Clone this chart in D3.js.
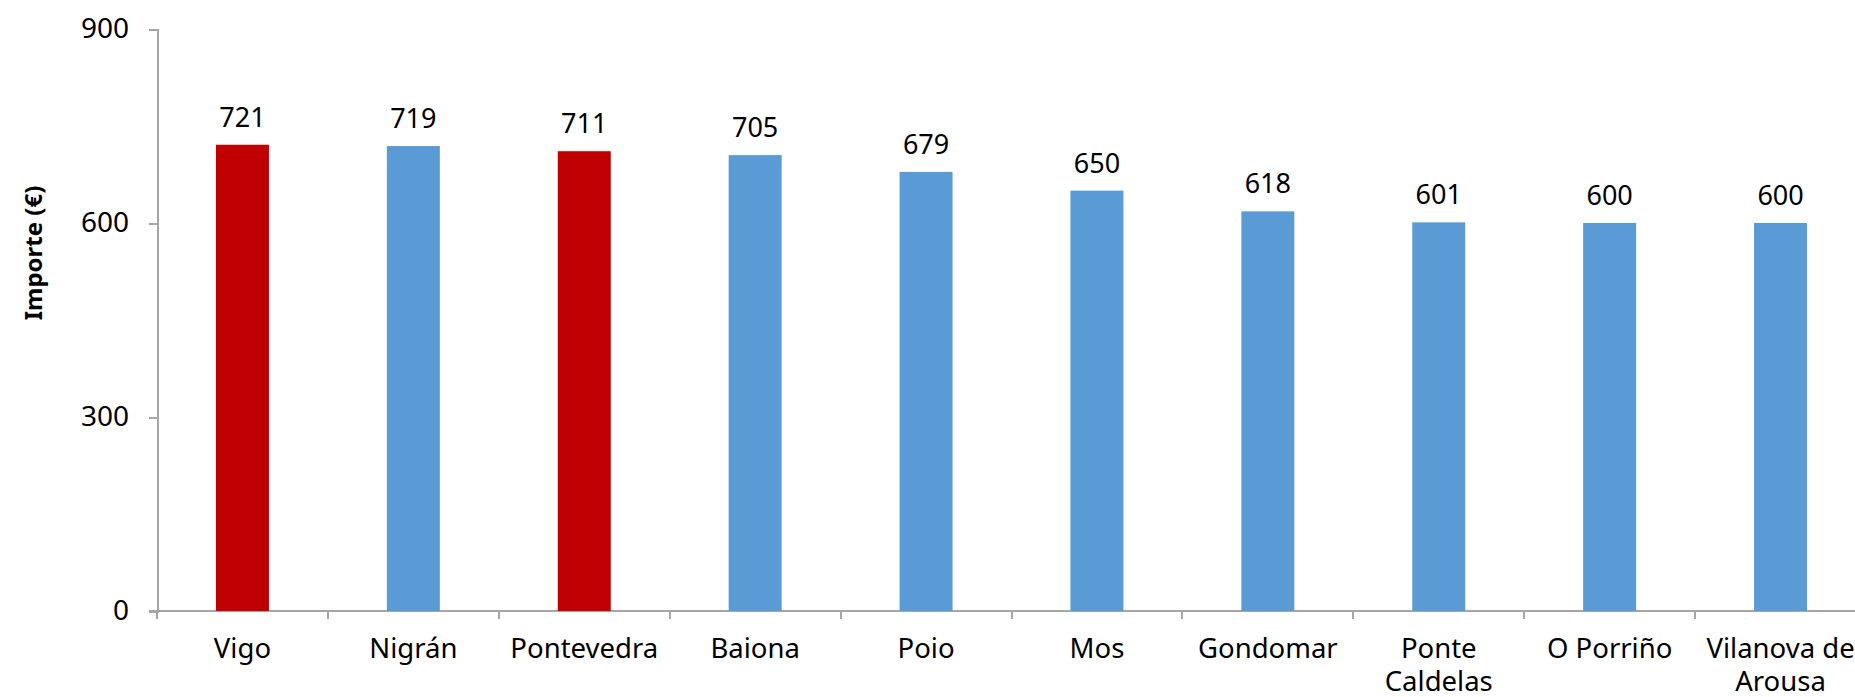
<!DOCTYPE html>
<html lang="es">
<meta charset="utf-8">
<style>
body { margin: 0; background: #fff; }
svg { display: block; font-family: "Noto Sans", sans-serif; }
.axis path, .axis line { stroke: #a6a6a6; stroke-width: 2; shape-rendering: crispEdges; }
</style>
<body>
<svg width="1855" height="697"></svg>
<script src="https://d3js.org/d3.v7.min.js"></script>
<script>

var municipios = ["Vigo", "Nigrán", "Pontevedra", "Baiona", "Poio", "Mos", "Gondomar",
                  "Ponte Caldelas", "O Porriño", "Vilanova de Arousa"];
var importe = [721, 719, 711, 705, 679, 650, 618, 601, 600, 600];
var destacados = ["Vigo", "Pontevedra"];
var yTicks = [0, 300, 600, 900];
// how category labels break into lines
var lineas = {"Ponte Caldelas": ["Ponte", "Caldelas"], "Vilanova de Arousa": ["Vilanova de", "Arousa"]};

var svg = d3.select("svg");

var x = d3.scaleBand()
    .domain(municipios)
    .range([157, 1866])
    .paddingInner(0.69)
    .paddingOuter(0.345);

var y = d3.scaleLinear()
    .domain([0, 900])
    .range([611, 29]);

// y axis
var gy = svg.append("g")
    .attr("class", "axis")
    .attr("transform", "translate(157,0)")
    .call(d3.axisLeft(y).tickValues(yTicks).tickSize(8).tickPadding(20));
gy.selectAll("text")
    .attr("font-size", 28)
    .attr("font-family", "Noto Sans")
    .attr("fill", "#000");

// x axis: ticks on band boundaries
var bordes = municipios.map(function(d, i) { return x.range()[0] + x.step() * i; });
var gx = svg.append("g")
    .attr("class", "axis");
gx.append("line")
    .attr("x1", 149).attr("x2", x.range()[1])
    .attr("y1", y(0)).attr("y2", y(0));
gx.selectAll(".tick")
    .data(bordes)
  .enter().append("line")
    .attr("x1", function(d) { return d; })
    .attr("x2", function(d) { return d; })
    .attr("y1", y(0))
    .attr("y2", y(0) + 8);

// bars
svg.selectAll(".bar")
    .data(municipios)
  .enter().append("rect")
    .attr("class", "bar")
    .attr("x", function(d) { return x(d); })
    .attr("width", x.bandwidth())
    .attr("y", function(d, i) { return y(importe[i]); })
    .attr("height", function(d, i) { return y(0) - y(importe[i]); })
    .attr("fill", function(d) { return destacados.indexOf(d) >= 0 ? "#c00000" : "#5b9bd5"; });

// value labels
svg.selectAll(".valor")
    .data(municipios)
  .enter().append("text")
    .attr("class", "valor")
    .attr("x", function(d) { return x(d) + x.bandwidth() / 2; })
    .attr("y", function(d, i) { return y(importe[i]) - 18; })
    .attr("text-anchor", "middle")
    .attr("font-size", 27)
    .text(function(d, i) { return importe[i]; });

// category labels
var cat = svg.selectAll(".cat")
    .data(municipios)
  .enter().append("text")
    .attr("class", "cat")
    .attr("text-anchor", "middle")
    .attr("font-size", 27.5)
    .attr("transform", function(d) { return "translate(" + (x(d) + x.bandwidth() / 2) + "," + 658 + ")"; });
cat.selectAll("tspan")
    .data(function(d) { return lineas[d] || [d]; })
  .enter().append("tspan")
    .attr("x", 0)
    .attr("dy", function(d, i) { return i ? 33 : 0; })
    .text(function(d) { return d; });

// y axis title
svg.append("text")
    .attr("transform", "translate(42," + ((y(0) + y(900)) / 2 - 67) + ") rotate(-90)")
    .attr("text-anchor", "middle")
    .attr("font-size", 24)
    .attr("font-weight", "bold")
    .text("Importe (€)");

</script>
</body>
</html>
